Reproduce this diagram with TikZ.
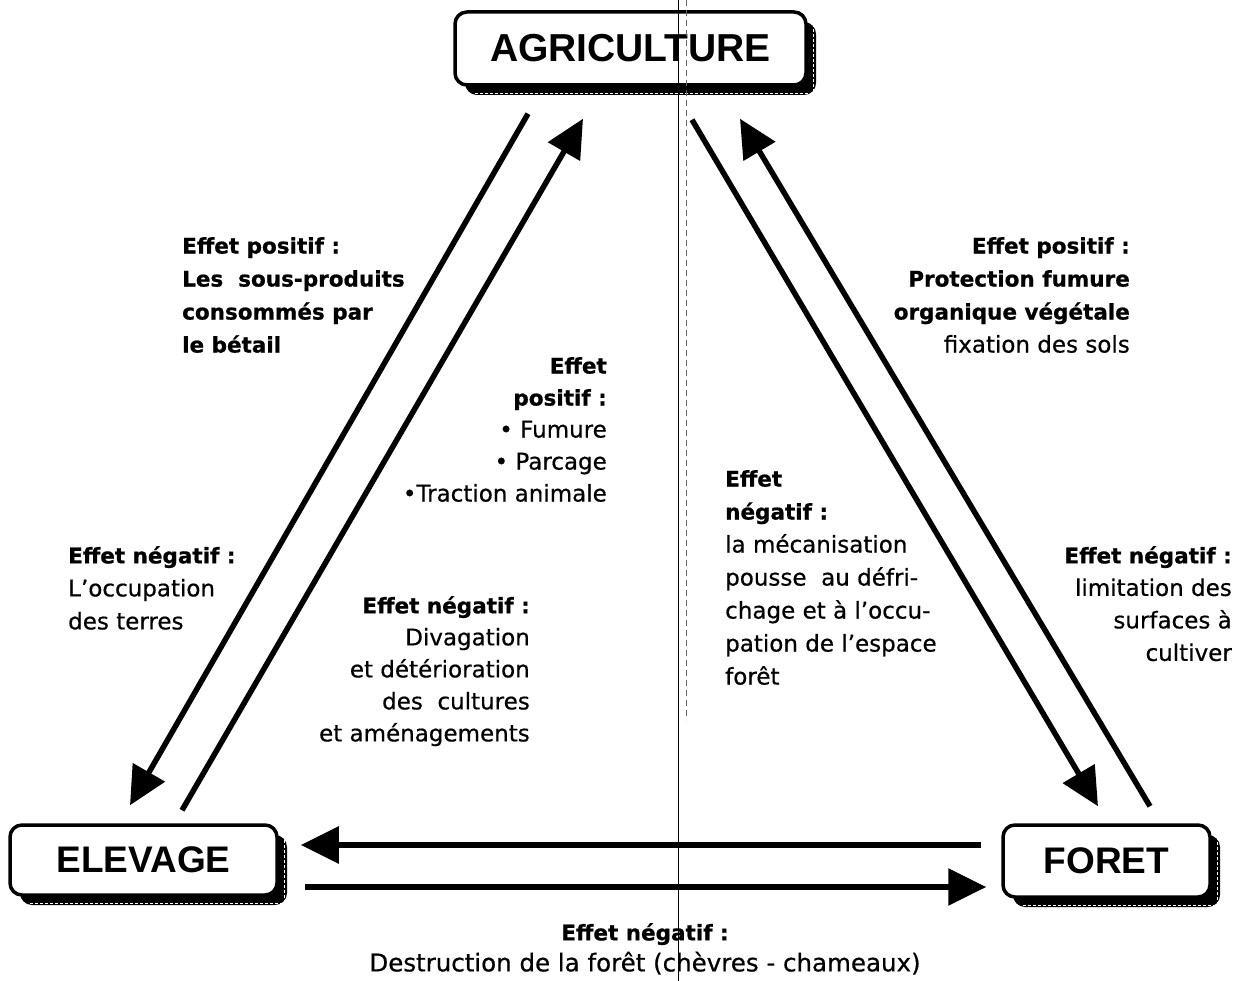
\documentclass[tikz,border=0pt]{standalone}
\usepackage{fontspec}
\setmainfont{DejaVu Sans}[UprightFeatures={FakeBold=0.6},BoldFeatures={FakeBold=0.8}]
\newfontfamily\boxfont{Liberation Sans}
\usetikzlibrary{arrows.meta,calc,shadows}
\newcommand\hb[1]{{\bfseries\fontsize{21.5}{33}\selectfont #1}}
\tikzset{
  box/.style={draw, line width=3.5pt, rounded corners=12pt, fill=white, inner sep=0pt,
    font=\boxfont\bfseries\fontsize{37}{40}\selectfont,
    drop shadow={shadow xshift=10pt, shadow yshift=-10pt, fill=black, opacity=1}},
  arr/.style={line width=5.5pt, -{Triangle[length=38pt,width=36pt]}},
  txt/.style={inner sep=0pt, font=\fontsize{23}{33}\selectfont},
  shadowline/.style={white, line width=0.7pt, dash pattern=on 3pt off 2pt},
  fold/.style={black, line width=1pt}
}
\begin{document}
\begin{tikzpicture}[x=1pt,y=-1pt]
\useasboundingbox (0,0) rectangle (1243,981);

% boxes
\node[box, minimum width=351pt, minimum height=73pt, font=\boxfont\bfseries\fontsize{39}{42}\selectfont] (agri) at (630.5,48.5) {AGRICULTURE};
\node[box, minimum width=267pt, minimum height=70pt] (elev) at (143.5,860) {ELEVAGE};
\node[box, minimum width=207pt, minimum height=72pt] (foret) at (1106.5,861) {FORET};

% shadow texture
\draw[shadowline] ($(agri.south west)+(22,7)$) -- ($(agri.south east)+(6,7)$) -- ($(agri.north east)+(6,14)$);
\draw[shadowline] ($(elev.south west)+(22,7)$) -- ($(elev.south east)+(6,7)$) -- ($(elev.north east)+(6,14)$);
\draw[shadowline] ($(foret.south west)+(22,7)$) -- ($(foret.south east)+(6,7)$) -- ($(foret.north east)+(6,14)$);

% connectors
\draw[arr] ($(agri.south)+(-102.5,27)$) -- ($(elev.north)+(-13.5,-18)$);
\draw[arr] ($(elev.north)+(38.5,-13)$) -- ($(agri.south)+(-47.5,32)$);
\draw[arr] ($(agri.south)+(61.5,33)$) -- ($(foret.north)+(-8.5,-17)$);
\draw[arr] ($(foret.north)+(43.5,-17)$) -- ($(agri.south)+(109.5,32)$);
\draw[arr] ($(foret.west)+(-20,-16)$) -- ($(elev.east)+(22,-15)$);
\draw[arr] ($(elev.east)+(26,27)$) -- ($(foret.west)+(-15,26)$);

% labels
\node[txt, anchor=north west, align=left] (t1) at (182,237)
  {\hb{Effet positif :}\\ \hb{Les~ sous-produits}\\ \hb{consommés par}\\ \hb{le bétail}};
\node[txt, anchor=north east, align=right, font=\fontsize{23}{32}\selectfont] (t2) at (607,357)
  {\hb{Effet}\\ \hb{positif :}\\ • Fumure\\ • Parcage\\ •Traction animale};
\node[txt, anchor=north west, align=left] (t3) at (68,546)
  {\hb{Effet négatif :}\\ L'occupation\\ des terres};
\node[txt, anchor=north east, align=right, font=\fontsize{23}{32}\selectfont] (t4) at (530,596)
  {\hb{Effet négatif :}\\ Divagation\\ et détérioration\\ des~ cultures\\ et aménagements};
\node[txt, anchor=north west, align=left, font=\fontsize{23}{33}\selectfont] (t5) at (725,470)
  {\hb{Effet}\\ \hb{négatif :}\\ la mécanisation\\ pousse~ au défri-\\ chage et à l'occu-\\ pation de l'espace\\ forêt};
\node[txt, anchor=north east, align=right] (t6) at (1130,237)
  {\hb{Effet positif :}\\ \hb{Protection fumure}\\ \hb{organique végétale}\\ fixation des sols};
\node[txt, anchor=north east, align=right, font=\fontsize{23}{32.5}\selectfont] (t7) at (1232,546)
  {\hb{Effet négatif :}\\ limitation des\\ surfaces à\\ cultiver};
\node[txt, anchor=north, align=center, font=\fontsize{24.5}{31}\selectfont] (t8) at (645,923)
  {\hb{Effet négatif :}\\ Destruction de la forêt (chèvres - chameaux)};

% scan fold line
\coordinate (foldtop) at (678,0);
\coordinate (foldbot) at (678,981);
\draw[fold] (foldtop) -- (foldbot);
\coordinate (fold2top) at (686,0);
\coordinate (fold2bot) at (686,720);
\draw[black!60, line width=0.6pt, dash pattern=on 6pt off 4pt] (fold2top) -- (fold2bot);
\end{tikzpicture}
\end{document}
